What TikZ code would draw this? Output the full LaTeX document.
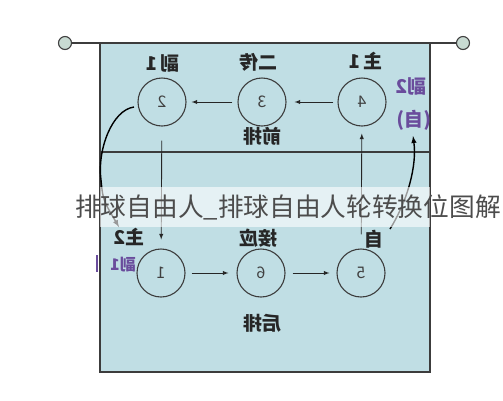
\documentclass[tikz,border=0pt]{standalone}
\usepackage{fontspec}
\setmainfont{Noto Sans CJK SC}
\definecolor{court}{HTML}{C0DEE4}
\definecolor{postfill}{HTML}{C8DAD2}
\definecolor{linegray}{HTML}{3C3C3C}
\definecolor{pen}{HTML}{6A4C9C}

\begin{document}
\begin{tikzpicture}[x=1pt, y=-1pt, node distance=100pt,
  player node/.style={draw=linegray, circle, minimum size=48pt, inner sep=0pt,
    line width=1.1pt, font=\fontsize{16}{16}\selectfont, text=black!75},
  post node/.style={draw=black!75, fill=postfill, circle, minimum size=13pt,
    inner sep=0pt, line width=1.1pt},
  hand node/.style={font=\bfseries\fontsize{19}{19}\selectfont, inner sep=0pt,
    text=black!85},
  pen node/.style={hand node, text=pen},
  move/.style={-latex, draw=black!85, line width=0.9pt},
  swing/.style={-latex, draw=black, line width=1.4pt}]
\useasboundingbox (0,0) rectangle (503,400);

% court and net
\fill[court] (100,43) rectangle (430,372);
\draw[linegray, line width=1.2pt] (100,43) rectangle (430,372);
\draw[linegray, line width=1.1pt] (100,152) -- (430,152);
\node[post node] (postL) at (65,43) {};
\node[post node] (postR) at (463,43) {};
\draw[linegray, line width=1.1pt] (postL) -- (postR);

% players
\node[player node]                (3) at (262,102) {\reflectbox{3}};
\node[player node, left of=3]     (2)  {\reflectbox{2}};
\node[player node, right of=3]    (4)  {\reflectbox{4}};
\node[player node]                (6) at (261,273) {\reflectbox{6}};
\node[player node, left of=6]     (1)  {\reflectbox{1}};
\node[player node, right of=6]    (5)  {\reflectbox{5}};

% labels
\node[hand node] (lab2)   at (163,63)  {\reflectbox{副\,1}};
\node[hand node] (lab3)   at (258,62)  {\reflectbox{二传}};
\node[hand node] (lab4)   at (366,61)  {\reflectbox{主\,1}};
\node[pen node]  (sub2)   at (411,86)  {\reflectbox{副2}};
\node[pen node]  (lib2)   at (414,120) {\reflectbox{(自)}};
\node[hand node] (front)  at (262,136) {\reflectbox{前排}};
\node[hand node] (lab1)   at (129,237) {\reflectbox{主2}};
\node[pen node, font=\bfseries\fontsize{16}{16}\selectfont] (sub1) at (123,265) {\reflectbox{副1}};
\node[hand node] (lab6)   at (258,238) {\reflectbox{接应}};
\node[hand node] (lab5)   at (374,239) {\reflectbox{自}};
\node[hand node] (back)   at (262,323) {\reflectbox{后排}};
\draw[pen, line width=2.4pt] (97,255) -- (97,272);

% rotation
\path
(4) edge[move, shorten <=4pt, shorten >=8pt] (3)
(3) edge[move, shorten <=5pt, shorten >=5pt] (2)
(2) edge[move, shorten <=14pt, shorten >=9pt] (1)
(1) edge[move, shorten <=6pt, shorten >=8pt] (6)
(6) edge[move, shorten <=7pt, shorten >=7pt] (5)
(5) edge[move, shorten <=14pt, shorten >=7pt] (4)
;

% libero swaps
\coordinate (ltop) at (134,107);
\coordinate (lbot) at (119,227);
\coordinate (rbot) at (390,229);
\coordinate (rtop) at (413,136);
\draw[swing] (ltop) .. controls (112,110) and (97,150) .. (101,180)
  .. controls (103,200) .. (lbot);
\draw[swing] (rbot) .. controls (408,200) and (417,165) .. (rtop);

% watermark
\fill[white, opacity=0.6] (100,187) rectangle (430,227);
\node[anchor=west, inner sep=0pt, font=\fontsize{25.7}{25.7}\selectfont, text=black!70]
  (title) at (75,207) {排球自由人\_排球自由人轮转换位图解};
\end{tikzpicture}
\end{document}
